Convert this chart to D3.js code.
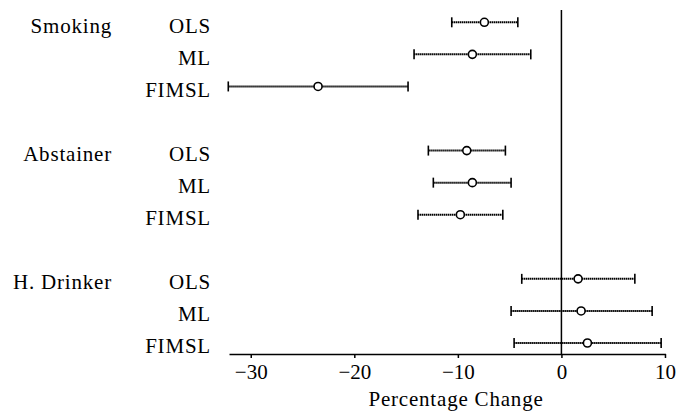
<!DOCTYPE html>
<html>
<head>
<meta charset="utf-8">
<script src="https://cdn.jsdelivr.net/npm/d3@7"></script>
<style>
  html, body { margin: 0; padding: 0; background: #fff; }
  text { font-family: "Liberation Serif", "Times New Roman", serif; }
</style>
</head>
<body>
<svg id="chart" width="677" height="412"></svg>
<script>
// Data
const groups = ["Smoking", "Abstainer", "H. Drinker"];
const methods = ["OLS", "ML", "FIMSL"];
const estimates = [
  [-7.44, -8.6, -23.5],
  [-9.14, -8.6, -9.76],
  [1.61, 1.9, 2.51]
];
const lower = [
  [-10.59, -14.23, -32.17],
  [-12.85, -12.37, -13.85],
  [-3.83, -4.86, -4.57]
];
const upper = [
  [-4.21, -2.96, -14.81],
  [-5.41, -4.86, -5.66],
  [7.09, 8.76, 9.63]
];
const xTicks = [-30, -20, -10, 0, 10];
const xLabel = "Percentage Change";

// Build rows: 3 methods per group, blank slot between groups
const rows = [];
const slots = [];
groups.forEach((g, gi) => {
  methods.forEach((m, mi) => {
    const key = g + "|" + m;
    slots.push(key);
    rows.push({ group: g, method: m, first: mi === 0, key,
      est: estimates[gi][mi], lo: lower[gi][mi], hi: upper[gi][mi] });
  });
  if (gi < groups.length - 1) slots.push("gap" + gi);
});

const svg = d3.select("#chart");
const x = d3.scaleLinear().domain([-32.1, 10.05]).range([229, 665.5]);
const y = d3.scalePoint().domain(slots).range([22.3, 343]);
const axisY = 354;

// reference line at 0
svg.append("line")
  .attr("x1", x(0)).attr("x2", x(0))
  .attr("y1", 10).attr("y2", axisY)
  .attr("stroke", "#000").attr("stroke-width", 1.5);

// x axis
const ax = svg.append("g")
  .attr("transform", `translate(0,${axisY})`)
  .call(d3.axisBottom(x).tickValues(xTicks).tickSize(4).tickSizeOuter(0).tickPadding(6));
ax.select(".domain").attr("stroke", "#000").attr("stroke-width", 1.5);
ax.selectAll(".tick line").attr("stroke", "#000").attr("stroke-width", 1.5);
ax.selectAll(".tick text")
  .attr("fill", "#000")
  .style("font-family", '"Liberation Serif", "Times New Roman", serif')
  .style("font-size", "21px");

svg.append("text")
  .attr("x", 456).attr("y", 406)
  .attr("text-anchor", "middle")
  .style("font-size", "21px")
  .style("letter-spacing", "0.8px")
  .text(xLabel);

// error bars
const g = svg.append("g");
rows.forEach(r => {
  const yy = y(r.key);
  g.append("line")
    .attr("x1", x(r.lo)).attr("x2", x(r.hi))
    .attr("y1", yy).attr("y2", yy)
    .attr("stroke", "#000").attr("stroke-width", 2)
    .attr("stroke-dasharray", "1.5,0.5");
  [r.lo, r.hi].forEach(v => {
    g.append("line")
      .attr("x1", x(v)).attr("x2", x(v))
      .attr("y1", yy - 5).attr("y2", yy + 5)
      .attr("stroke", "#000").attr("stroke-width", 1.6);
  });
  g.append("circle")
    .attr("cx", x(r.est)).attr("cy", yy).attr("r", 4)
    .attr("fill", "#fff").attr("stroke", "#000").attr("stroke-width", 1.6);

  // method label
  g.append("text")
    .attr("x", 211).attr("y", yy + 10.3)
    .attr("text-anchor", "end")
    .style("font-size", "21px")
    .style("letter-spacing", "0.8px")
    .text(r.method);
  if (r.first) {
    g.append("text")
      .attr("x", 112).attr("y", yy + 10.3)
      .attr("text-anchor", "end")
      .style("font-size", "21px")
      .style("letter-spacing", "0.8px")
      .text(r.group);
  }
});
</script>
</body>
</html>
